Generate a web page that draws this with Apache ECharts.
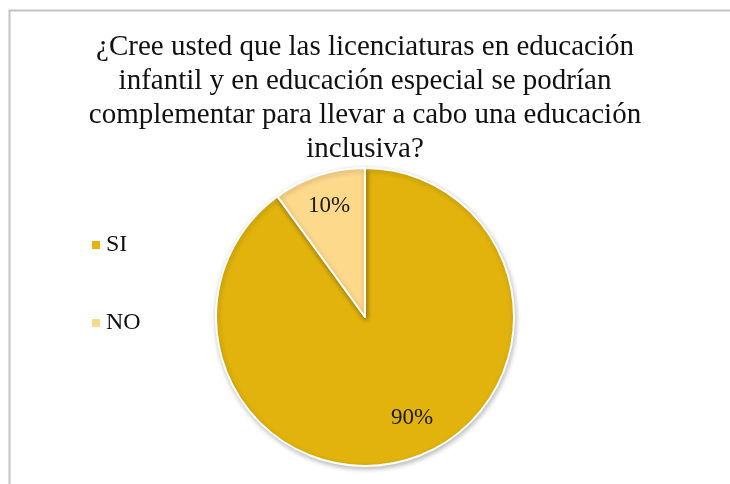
<!DOCTYPE html>
<html>
<head>
<meta charset="utf-8">
<script src="https://cdn.jsdelivr.net/npm/echarts@6/dist/echarts.min.js"></script>
<style>
  html, body { margin: 0; padding: 0; background: #fff; }
  #chart { width: 730px; height: 484px; }
</style>
</head>
<body>
<div id="chart"></div>
<script>
// Survey answers and their shares (percent)
const categories = ['SI', 'NO'];
const shares = [90, 10];
const colors = ['#E1B30C', '#FDD98B'];
const titleText = '¿Cree usted que las licenciaturas en educación\ninfantil y en educación especial se podrían\ncomplementar para llevar a cabo una educación\ninclusiva?';

const serif = '"Liberation Serif", "Times New Roman", serif';
const pieData = categories.map((name, i) => ({ name, value: shares[i], itemStyle: { color: colors[i] } }));

const chart = echarts.init(document.getElementById('chart'), null, { renderer: 'canvas' });
chart.setOption({
  animation: false,
  backgroundColor: '#ffffff',
  title: {
    text: titleText,
    left: 'center',
    top: 30,
    padding: 0,
    textStyle: { fontFamily: serif, fontSize: 29, fontWeight: 'normal', color: '#111', lineHeight: 34 }
  },
  legend: {
    orient: 'vertical',
    left: 90,
    top: 233,
    padding: 0,
    itemWidth: 10,
    itemHeight: 10,
    itemGap: 54,
    icon: 'rect',
    data: categories,
    textStyle: { fontFamily: serif, fontSize: 24, color: '#111', lineHeight: 24 }
  },
  graphic: [{
    type: 'polyline',
    silent: true,
    shape: { points: [[9.5, 484], [9.5, 10.5], [730, 10.5]] },
    style: { stroke: '#C3C3C3', lineWidth: 2, fill: null }
  }],
  series: [
    {
      type: 'pie',
      center: [365, 317],
      radius: [0, 149],
      startAngle: 90,
      clockwise: true,
      data: pieData,
      label: { show: false },
      labelLine: { show: false },
      itemStyle: {
        borderColor: '#ffffff',
        borderWidth: 2,
        shadowBlur: 5,
        shadowColor: 'rgba(0,0,0,0.25)',
        shadowOffsetX: 1,
        shadowOffsetY: 2
      },
      emphasis: { disabled: true }
    },
    {
      // label ring: carries the percent text at ~3/4 of the radius
      type: 'pie',
      center: [365, 317],
      radius: [78, 149],
      startAngle: 90,
      clockwise: true,
      silent: true,
      data: pieData.map(d => ({ name: d.name, value: d.value })),
      itemStyle: { color: 'rgba(0,0,0,0)', borderWidth: 0 },
      label: {
        show: true,
        position: 'inside',
        formatter: p => p.value + '%',
        fontFamily: serif,
        fontSize: 23,
        color: '#1a1a1a'
      },
      // the large slice's label sits a little further round the arc
      labelLayout: p => (p.dataIndex === 0 ? { dx: 11, dy: -10 } : {}),
      labelLine: { show: false },
      emphasis: { disabled: true },
      legendHoverLink: false
    }
  ]
});
</script>
</body>
</html>
